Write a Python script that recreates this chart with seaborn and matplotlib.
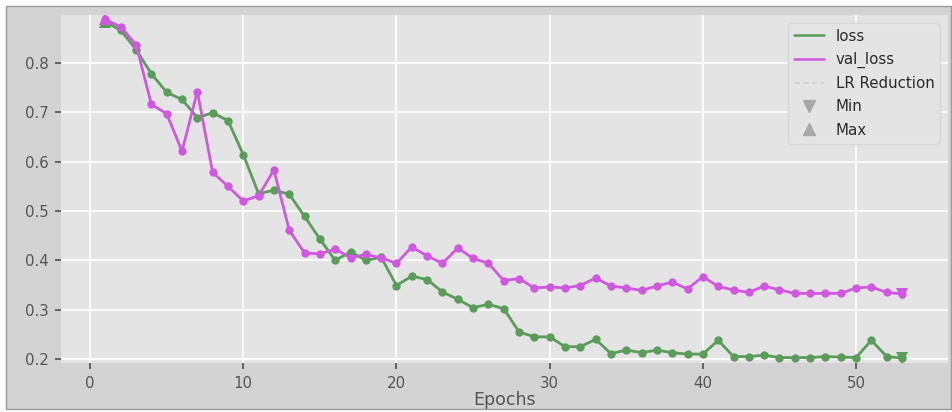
import matplotlib
matplotlib.use("Agg")
import matplotlib.pyplot as plt
from matplotlib.lines import Line2D
from matplotlib.patches import Rectangle
import numpy as np
import pandas as pd
import seaborn as sns

# Training history
epochs = list(range(1, 54))
loss = [0.883, 0.866, 0.827, 0.778, 0.740, 0.726, 0.689, 0.699, 0.683, 0.614,
        0.535, 0.542, 0.534, 0.489, 0.443, 0.400, 0.417, 0.400, 0.406, 0.349,
        0.368, 0.361, 0.336, 0.321, 0.304, 0.311, 0.302, 0.255, 0.245, 0.245,
        0.225, 0.225, 0.240, 0.211, 0.218, 0.213, 0.218, 0.213, 0.210, 0.210,
        0.238, 0.205, 0.205, 0.208, 0.203, 0.203, 0.203, 0.205, 0.204, 0.203,
        0.238, 0.205, 0.202]
val_loss = [0.888, 0.873, 0.837, 0.716, 0.697, 0.621, 0.742, 0.578, 0.550, 0.520,
            0.531, 0.583, 0.461, 0.415, 0.413, 0.423, 0.405, 0.412, 0.405, 0.394,
            0.427, 0.409, 0.394, 0.425, 0.404, 0.394, 0.359, 0.363, 0.344, 0.346,
            0.344, 0.349, 0.364, 0.348, 0.344, 0.339, 0.348, 0.356, 0.342, 0.367,
            0.347, 0.340, 0.335, 0.348, 0.340, 0.333, 0.333, 0.333, 0.333, 0.344,
            0.346, 0.335, 0.332]
lr_reductions = []  # epochs where the learning rate was reduced

x_ticks = [0, 10, 20, 30, 40, 50]
y_ticks = [0.2, 0.3, 0.4, 0.5, 0.6, 0.7, 0.8]

GREEN = "#5a9c5a"
MAGENTA = "#d058e0"
MARK_GRAY = "#a8a8a8"

sns.set_theme(style="darkgrid", rc={
    "axes.facecolor": "#e4e4e4",
    "figure.facecolor": "white",
    "grid.color": "white",
    "grid.linewidth": 1.2,
    "axes.edgecolor": "#e4e4e4",
    "xtick.color": "#555555",
    "ytick.color": "#555555",
    "axes.labelcolor": "#555555",
    "xtick.bottom": True,
    "ytick.left": True,
    "xtick.major.size": 4,
    "ytick.major.size": 4,
})
plt.rcParams["font.family"] = ["DejaVu Sans"]

df = pd.DataFrame({"epoch": epochs, "loss": loss, "val_loss": val_loss})

fig = plt.figure(figsize=(9.53, 4.12), dpi=100)
# grey panel with a thin frame behind the axes
fig.patches.append(Rectangle((6 / 953, 3 / 412), 945 / 953, 403 / 412,
                             transform=fig.transFigure, facecolor="#d3d3d3",
                             edgecolor="#9a9a9a", linewidth=1.0, zorder=-1))
ax = fig.add_axes([61 / 953, 1 - 363 / 412, 887 / 953, 348 / 412])

sns.lineplot(data=df, x="epoch", y="loss", ax=ax, color=GREEN, marker="o",
             markersize=6, markeredgewidth=0, linewidth=2, label="loss", legend=False)
sns.lineplot(data=df, x="epoch", y="val_loss", ax=ax, color=MAGENTA, marker="o",
             markersize=6, markeredgewidth=0, linewidth=2, label="val_loss", legend=False)

for ep in lr_reductions:
    ax.axvline(ep, color="#c8c8c8", linestyle="--", linewidth=1)

# Min / Max markers for each series
for series, col in [(loss, GREEN), (val_loss, MAGENTA)]:
    arr = np.asarray(series)
    i_min, i_max = int(np.argmin(arr)), int(np.argmax(arr))
    ax.plot(epochs[i_min], arr[i_min], marker="v", color=col, markersize=9,
            markeredgewidth=0, zorder=4)
    ax.plot(epochs[i_max], arr[i_max], marker="^", color=col, markersize=9,
            markeredgewidth=0, zorder=3)

ax.set_xlim(-1.9, 56.0)
ax.set_ylim(0.192, 0.897)
ax.set_xticks(x_ticks)
ax.set_yticks(y_ticks)
ax.set_yticklabels([f"{t:.1f}" for t in y_ticks])
ax.tick_params(axis="both", labelsize=10.8, pad=5)
ax.set_xlabel("Epochs", fontsize=12.5, labelpad=0.5)
ax.set_ylabel("")
for s in ax.spines.values():
    s.set_visible(False)

handles = [
    Line2D([], [], color=GREEN, linewidth=1.8),
    Line2D([], [], color=MAGENTA, linewidth=1.8),
    Line2D([], [], color="#cfcfcf", linestyle="--", linewidth=1.2),
    Line2D([], [], color=MARK_GRAY, marker="v", linestyle="", markersize=8),
    Line2D([], [], color=MARK_GRAY, marker="^", linestyle="", markersize=8),
]
labels = ["loss", "val_loss", "LR Reduction", "Min", "Max"]
leg = ax.legend(handles, labels, loc="upper right", fontsize=10.8,
                labelspacing=0.55, frameon=True, facecolor="#e4e4e4",
                edgecolor="#d6d6d6", framealpha=1.0, borderaxespad=0.5)
for t in leg.get_texts():
    t.set_color("#2a2a2a")

fig.savefig("out.png", dpi=100)
